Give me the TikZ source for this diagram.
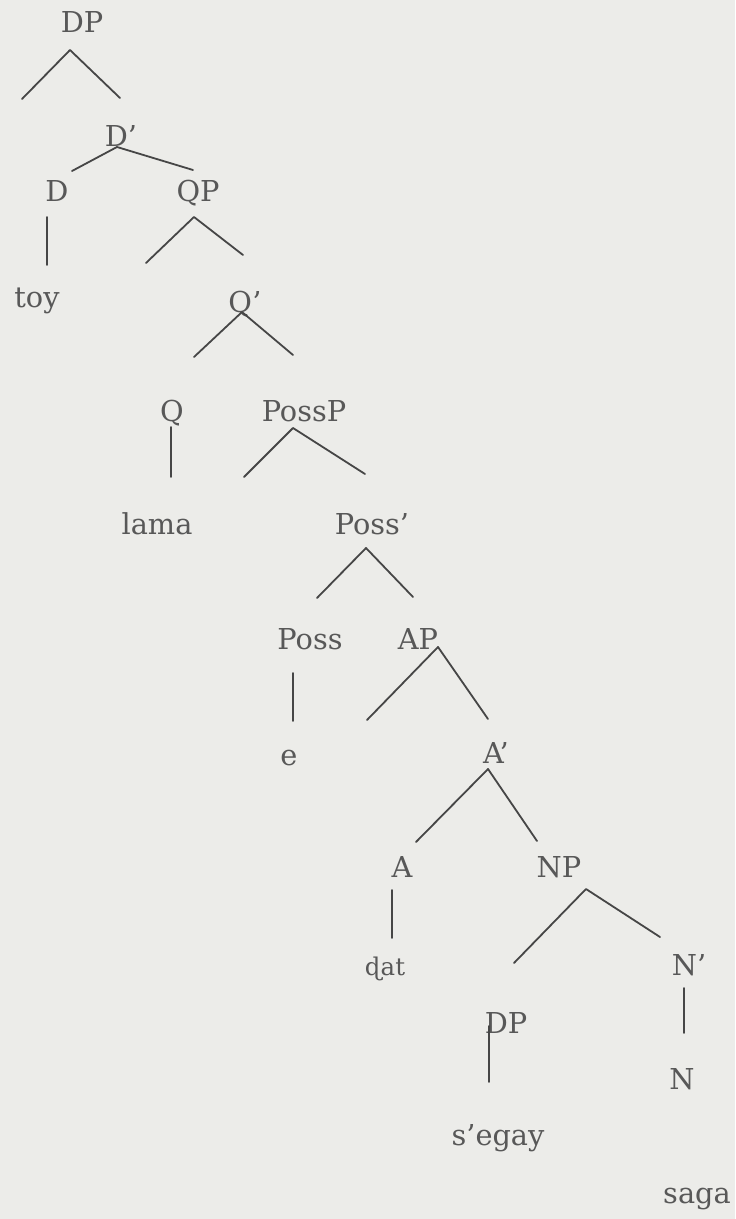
\documentclass[tikz,border=0pt]{standalone}
\usepackage{fontspec}
\setmainfont{DejaVu Serif}
\usepackage{xcolor}
\usetikzlibrary{calc}
\definecolor{PaperGray}{RGB}{236,236,233}
\definecolor{InkGray}{RGB}{88,88,88}
\definecolor{LineGray}{RGB}{70,70,70}

\begin{document}
\begin{tikzpicture}[
  x=0.5pt, y=-0.5pt,
  line cap=round,
  line join=round,
  every node/.style={font=\fontsize{14.4}{16}\selectfont, text=InkGray, inner sep=0pt, anchor=base},
  branch/.style={line width=0.9pt, draw=LineGray}
]
  \fill[PaperGray] (0,0) rectangle (735,1219);
  \useasboundingbox (0,0) rectangle (735,1219);

  % Labels (placed on their baselines)
  \node (dp)      at ( 82,  33) {DP};
  \node (dbar)    at (121, 147) {D’};
  \node (d)       at ( 57, 202) {D};
  \node (qp)      at (198, 202) {QP};
  \node (toy)     at ( 37, 307) {toy};
  \node (qbar)    at (245, 313) {Q’};
  \node (q)       at (172, 421) {Q};
  \node (possp)   at (304, 421) {PossP};
  \node (lama)    at (157, 534) {lama};
  \node (possbar) at (372, 534) {Poss’};
  \node (poss)    at (310, 649) {Poss};
  \node (ap)      at (418, 649) {AP};
  \node (e)       at (289, 765) {e};
  \node (abar)    at (496, 763) {A’};
  \node (a)       at (402, 877) {A};
  \node (np)      at (559, 877) {NP};
  \node[font=\fontsize{12.2}{14}\selectfont] (dat) at (385, 975) {ɖat};
  \node (nbar)    at (689, 975) {N’};
  \node (dpb)     at (506,1033) {DP};
  \node (n)       at (682,1089) {N};
  \node (segay)   at (498,1145) {s’egay};
  \node (saga)    at (697,1203) {saga};

  % Branching points and free ends
  \coordinate (dpA)    at ( 70,  50); \coordinate (dpL)    at ( 22,  99); \coordinate (dpR)    at (120,  98);
  \coordinate (dbarA)  at (117, 147); \coordinate (dbarL)  at ( 72, 171); \coordinate (dbarR)  at (193, 170);
  \coordinate (qpA)    at (194, 217); \coordinate (qpL)    at (146, 263); \coordinate (qpR)    at (243, 255);
  \coordinate (qbarA)  at (242, 312); \coordinate (qbarL)  at (194, 357); \coordinate (qbarR)  at (293, 355);
  \coordinate (posspA) at (293, 428); \coordinate (posspL) at (244, 477); \coordinate (posspR) at (365, 474);
  \coordinate (pbarA)  at (366, 548); \coordinate (pbarL)  at (317, 598); \coordinate (pbarR)  at (413, 597);
  \coordinate (apA)    at (438, 647); \coordinate (apL)    at (367, 720); \coordinate (apR)    at (488, 719);
  \coordinate (abarA)  at (488, 769); \coordinate (abarL)  at (416, 842); \coordinate (abarR)  at (537, 841);
  \coordinate (npA)    at (586, 889); \coordinate (npL)    at (514, 963); \coordinate (npR)    at (660, 937);

  \foreach \l/\m/\r in {dpL/dpA/dpR, dbarL/dbarA/dbarR, qpL/qpA/qpR, qbarL/qbarA/qbarR,
                        posspL/posspA/posspR, pbarL/pbarA/pbarR, apL/apA/apR,
                        abarL/abarA/abarR, npL/npA/npR}{
    \draw[branch] (\l) -- (\m) -- (\r);
  }

  % Unary branches
  \coordinate (dT)    at ( 47, 217); \coordinate (dB)    at ( 47, 265);
  \coordinate (qT)    at (171, 427); \coordinate (qB)    at (171, 477);
  \coordinate (possT) at (293, 673); \coordinate (possB) at (293, 721);
  \coordinate (aT)    at (392, 890); \coordinate (aB)    at (392, 938);
  \coordinate (nbarT) at (684, 988); \coordinate (nbarB) at (684,1033);
  \coordinate (dpbT)  at (489,1026); \coordinate (dpbB)  at (489,1082);

  \foreach \t/\b in {dT/dB, qT/qB, possT/possB, aT/aB, nbarT/nbarB, dpbT/dpbB}{
    \draw[branch] (\t) -- (\b);
  }
\end{tikzpicture}
\end{document}
